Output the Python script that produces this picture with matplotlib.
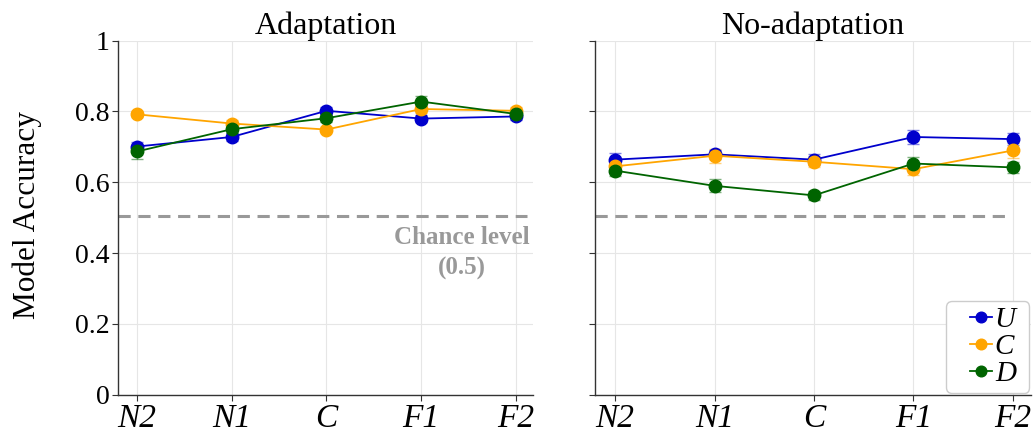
import matplotlib
matplotlib.use("Agg")
import matplotlib.pyplot as plt
from matplotlib.lines import Line2D
from matplotlib.legend_handler import HandlerLine2D
import numpy as np

plt.rcParams['font.family'] = ['Liberation Serif', 'DejaVu Serif']

conditions = ["N2", "N1", "C", "F1", "F2"]
series = ["U", "C", "D"]
colors = {"U": "#0000CC", "C": "#FFA500", "D": "#006400"}

adapt_vals = {
    "U": [0.701, 0.728, 0.802, 0.780, 0.786],
    "C": [0.792, 0.766, 0.749, 0.807, 0.802],
    "D": [0.687, 0.750, 0.781, 0.828, 0.793],
}
adapt_err = {
    "U": [0.012, 0.010, 0.010, 0.010, 0.010],
    "C": [0.008, 0.010, 0.008, 0.012, 0.012],
    "D": [0.022, 0.010, 0.010, 0.015, 0.012],
}
noadapt_vals = {
    "U": [0.664, 0.679, 0.664, 0.728, 0.722],
    "C": [0.645, 0.675, 0.658, 0.637, 0.690],
    "D": [0.633, 0.590, 0.563, 0.653, 0.642],
}
noadapt_err = {
    "U": [0.018, 0.012, 0.015, 0.020, 0.016],
    "C": [0.015, 0.020, 0.015, 0.016, 0.022],
    "D": [0.015, 0.018, 0.012, 0.018, 0.015],
}
titles = ["Adaptation", "No-adaptation"]
chance = 0.505
yticks = [0, 0.2, 0.4, 0.6, 0.8, 1.0]
yticklabels = ["0", "0.2", "0.4", "0.6", "0.8", "1"]


class RightLine(HandlerLine2D):
    """Legend line drawn only in the right part of the handle box."""
    def __init__(self, frac, **kw):
        super().__init__(**kw)
        self.frac = frac

    def create_artists(self, legend, orig_handle, xdescent, ydescent, width,
                       height, fontsize, trans):
        arts = super().create_artists(legend, orig_handle, xdescent, ydescent,
                                      width, height, fontsize, trans)
        x0 = -xdescent + width * (1 - self.frac)
        x1 = -xdescent + width
        for a in arts:
            xd = np.asarray(a.get_xdata(), float)
            if xd.size > 1 and xd.max() > xd.min():
                a.set_xdata(x0 + (xd - xd.min()) / (xd.max() - xd.min()) * (x1 - x0))
            else:
                a.set_xdata(np.full_like(xd, (x0 + x1) / 2))
        return arts


fig = plt.figure(figsize=(10.35, 4.33), dpi=100)
ax1 = fig.add_axes([0.114, 0.0885, 0.401, 0.8175])
ax2 = fig.add_axes([0.575, 0.0885, 0.421, 0.8175])

x = np.arange(len(conditions))
for ax, vals, errs, title, dash_end in [(ax1, adapt_vals, adapt_err, titles[0], 0.985),
                                       (ax2, noadapt_vals, noadapt_err, titles[1], 0.955)]:
    for s in series:
        ax.errorbar(x, vals[s], yerr=errs[s], fmt='none', ecolor=colors[s],
                    elinewidth=1.0, capsize=4, capthick=1.0, alpha=0.5, zorder=2)
        ax.plot(x, vals[s], color=colors[s], marker='o', markersize=9,
                linewidth=1.3, label=s, zorder=3)
    ax.axhline(chance, xmin=0, xmax=dash_end, color='#999999', linestyle=(0, (4, 2.5)),
               linewidth=2.2, zorder=1)
    ax.set_xlim(-0.2, 4.18)
    ax.set_ylim(0, 1)
    ax.set_xticks(x)
    ax.set_xticklabels(conditions, fontsize=24, style='italic')
    ax.set_yticks(yticks)
    ax.grid(True, color='#e6e6e6', linewidth=0.8, zorder=0)
    ax.set_axisbelow(True)
    ax.spines['top'].set_visible(False)
    ax.spines['right'].set_visible(False)
    for sp in ['left', 'bottom']:
        ax.spines[sp].set_color('#333333')
        ax.spines[sp].set_linewidth(1.0)
    ax.tick_params(axis='both', colors='#333333', length=4, labelcolor='black', pad=2)
    ax.set_title(title, fontsize=23, pad=4)

ax1.set_yticklabels(yticklabels, fontsize=20)
ax2.set_yticklabels([])
ax1.set_ylabel("Model Accuracy", fontsize=22.5)
ax1.yaxis.set_label_coords(-0.183, 0.508)

ax1.text(3.43, 0.40, "Chance level\n(0.5)", ha='center', va='center', fontsize=18,
         fontweight='bold', color='#999999', linespacing=1.4)

handles, labels = ax2.get_legend_handles_labels()
leg = ax2.legend(handles, [l + " " for l in labels], loc='lower right',
                 prop={'size': 21, 'style': 'italic'},
                 handlelength=1.37, handletextpad=0.12, markerscale=0.85,
                 handler_map={Line2D: RightLine(0.55)},
                 borderpad=0.2, labelspacing=0.02, framealpha=1.0,
                 borderaxespad=0.05, edgecolor='#cccccc')

fig.savefig("out.png", dpi=100)
